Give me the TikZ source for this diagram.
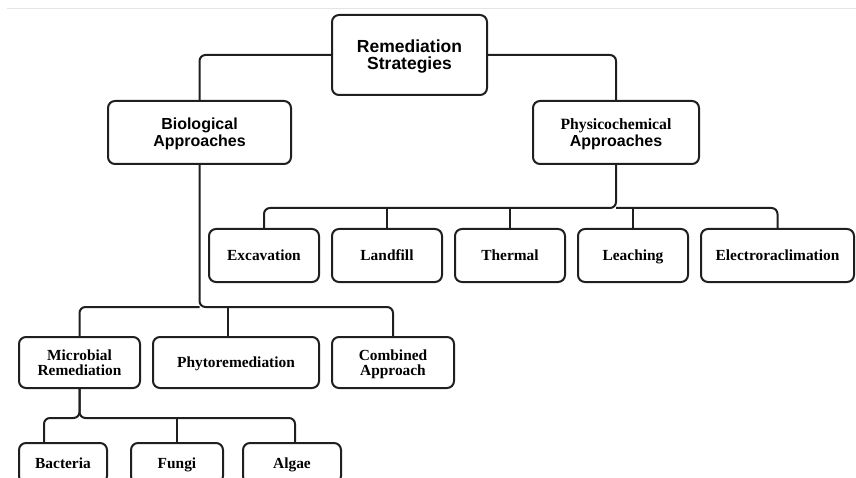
\documentclass[tikz,border=0pt]{standalone}
\usepackage{fontspec}
\setmainfont{Liberation Serif}
\setsansfont{Liberation Sans}
\usetikzlibrary{positioning}

\begin{document}
\begin{tikzpicture}[x=1pt, y=-1pt, line width=2pt,
  boite/.style={draw=black!88, rounded corners=7pt, align=center, inner sep=2pt,
    font=\bfseries\fontsize{15.4}{15}\selectfont},
  ligne/.style={boite, text height=12.5pt, text depth=2.3pt},
  deux/.style={boite, text depth=-5pt},
  boitesf/.style={deux, font=\sffamily\bfseries\fontsize{16}{17}\selectfont},
  lien/.style={draw=black!88, rounded corners=6pt}]
  \clip (0,0) rectangle (856,478);
  \draw[line width=0.8pt, black!10] (7,8) -- (856,8);

  % Niveaux 1 et 2
  \node[boitesf, text depth=-6pt, minimum width=155, minimum height=80, font=\sffamily\bfseries\fontsize{17.5}{17}\selectfont] (rs) at (409.5,55) {Remediation\\Strategies};
  \node[boitesf, text depth=-8pt, minimum width=183, minimum height=63] (bio) at (199.5,132.5) {Biological\\Approaches};
  \node[deux, minimum width=166, minimum height=63, font=\bfseries\fontsize{15.7}{17.5}\selectfont] (phys) at (616,132.5) {Physicochemical\\{\sffamily\fontsize{16}{17}\selectfont Approaches}};

  % Branche physico-chimique
  \node[ligne, minimum width=110, minimum height=53] (exc) at (264,255.5) {Excavation};
  \node[ligne, minimum width=110, minimum height=53] (land) at (387,255.5) {Landfill};
  \node[ligne, minimum width=110, minimum height=53] (therm) at (510,255.5) {Thermal};
  \node[ligne, minimum width=110, minimum height=53] (leach) at (633,255.5) {Leaching};
  \node[ligne, minimum width=153, minimum height=53] (elec) at (777.5,255.5) {Electroraclimation};

  % Branche biologique
  \node[boite, text depth=0pt, minimum width=121, minimum height=51] (micro) at (79.5,362.5) {Microbial\\Remediation};
  \node[ligne, minimum width=166, minimum height=51] (phyto) at (236,362.5) {Phytoremediation};
  \node[boite, text depth=-1pt, minimum width=122, minimum height=51] (comb) at (393,362.5) {Combined\\Approach};

  \node[ligne, minimum width=88, minimum height=40] (bact) at (63,463) {Bacteria};
  \node[ligne, minimum width=92, minimum height=40] (fungi) at (177,463) {Fungi};
  \node[ligne, minimum width=98, minimum height=40] (algae) at (292,463) {Algae};

  \coordinate (pbar) at (616,208);
  \coordinate (bbar) at (199.5,307);
  \coordinate (mbar) at (79.5,418);
  \coordinate (bdrop) at ([xshift=-19pt]bact.north);
  \coordinate (pdrop) at ([xshift=-8pt]phyto.north);
  \coordinate (adrop) at ([xshift=3pt]algae.north);

  % Liens
  \path[lien] (rs.west) -| (bio.north);
  \path[lien] (rs.east) -| (phys.north);

  \path[lien] (phys.south) |- (exc.north |- pbar) -- (exc.north);
  \path[lien] (elec.north) |- (pbar);
  \path[lien] (land.north) -- (land.north |- pbar);
  \path[lien] (therm.north) -- (therm.north |- pbar);
  \path[lien] (leach.north) -- (leach.north |- pbar);

  \path[lien] (bio.south) |- (comb.north |- bbar) -- (comb.north);
  \path[lien] (micro.north) |- (bbar);
  \path[lien] (pdrop) -- (pdrop |- bbar);

  \path[lien] (micro.south) |- (adrop |- mbar) -- (adrop);
  \path[lien] (micro.south) |- (bdrop |- mbar) -- (bdrop);
  \path[lien] (fungi.north) -- (fungi.north |- mbar);
\end{tikzpicture}
\end{document}
